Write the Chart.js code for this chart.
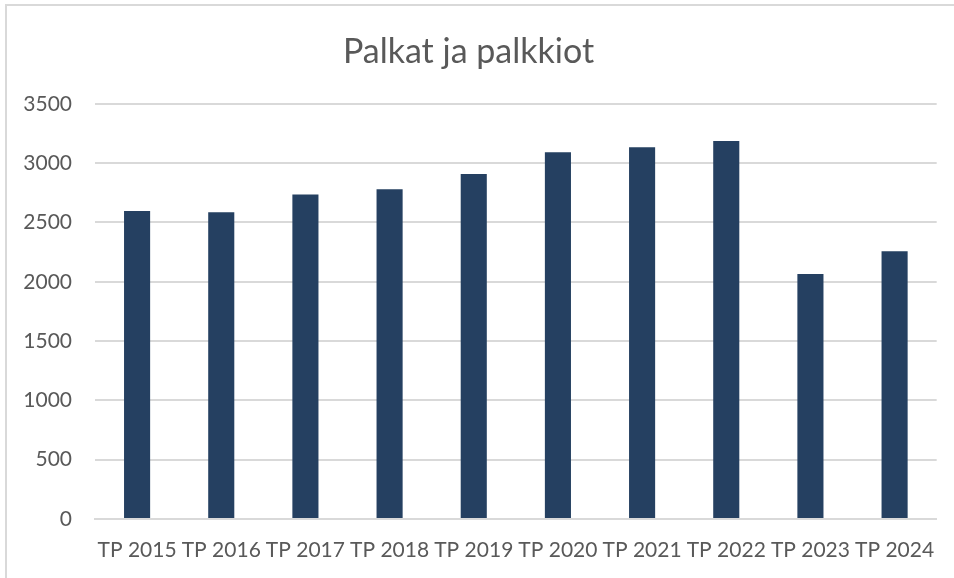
<!DOCTYPE html>
<html>
<head>
<meta charset="utf-8">
<script src="https://cdn.jsdelivr.net/npm/chart.js@4.4.1/dist/chart.umd.min.js"></script>
<style>
  html, body { margin: 0; padding: 0; background: #fff; }
  #wrap { position: relative; width: 954px; height: 578px; }
  #frame { position: absolute; left: 5px; top: 4px; right: 0; bottom: 0;
           border-left: 2px solid #d9d9d9; border-top: 2px solid #d9d9d9; pointer-events: none; }
  canvas { position: absolute; left: 0; top: 0; }
</style>
</head>
<body>
<div id="wrap">
  <canvas id="chart" width="954" height="578"></canvas>
  <div id="frame"></div>
</div>
<script>
var categories = ['TP 2015', 'TP 2016', 'TP 2017', 'TP 2018', 'TP 2019', 'TP 2020', 'TP 2021', 'TP 2022', 'TP 2023', 'TP 2024'];
var palkat = [2597, 2586, 2735, 2780, 2909, 3092, 3134, 3187, 2066, 2257];
var yTicks = [0, 500, 1000, 1500, 2000, 2500, 3000, 3500];

var textColor = '#595959';
var gridColor = '#d9d9d9';

var ctx = document.getElementById('chart').getContext('2d');
var chart = new Chart(ctx, {
    type: 'bar',
    data: {
        labels: categories,
        datasets: [{
            label: 'Palkat ja palkkiot',
            data: palkat,
            backgroundColor: '#254061',
            borderWidth: 0,
            categoryPercentage: 1,
            barPercentage: 0.31
        }]
    },
    options: {
        responsive: false,
        animation: false,
        layout: { padding: { left: 0, right: 17, top: 0, bottom: 0 } },
        plugins: {
            legend: { display: false },
            tooltip: { enabled: false },
            title: {
                display: true,
                text: 'Palkat ja palkkiot',
                color: textColor,
                font: { family: 'Lato', size: 34, weight: 'normal', lineHeight: 1.2 },
                padding: { top: 32, bottom: 31 }
            }
        },
        scales: {
            x: {
                grid: { display: false, drawTicks: false },
                border: { display: true, color: gridColor, width: 2 },
                ticks: {
                    color: textColor,
                    font: { family: 'Lato', size: 21, lineHeight: 1.2 },
                    padding: 19,
                    maxRotation: 0,
                    autoSkip: false
                },
                afterFit: function (scale) { scale.height = 59; }
            },
            y: {
                min: 0,
                max: yTicks[yTicks.length - 1],
                afterBuildTicks: function (scale) {
                    scale.ticks = yTicks.map(function (v) { return { value: v }; });
                },
                grid: { color: gridColor, lineWidth: 2, drawTicks: false },
                border: { display: false },
                ticks: {
                    color: textColor,
                    font: { family: 'Lato', size: 21, lineHeight: 1.2 },
                    padding: 23,
                    callback: function (value) { return String(value); }
                },
                afterFit: function (scale) { scale.width = 95; }
            }
        }
    }
});
</script>
</body>
</html>
